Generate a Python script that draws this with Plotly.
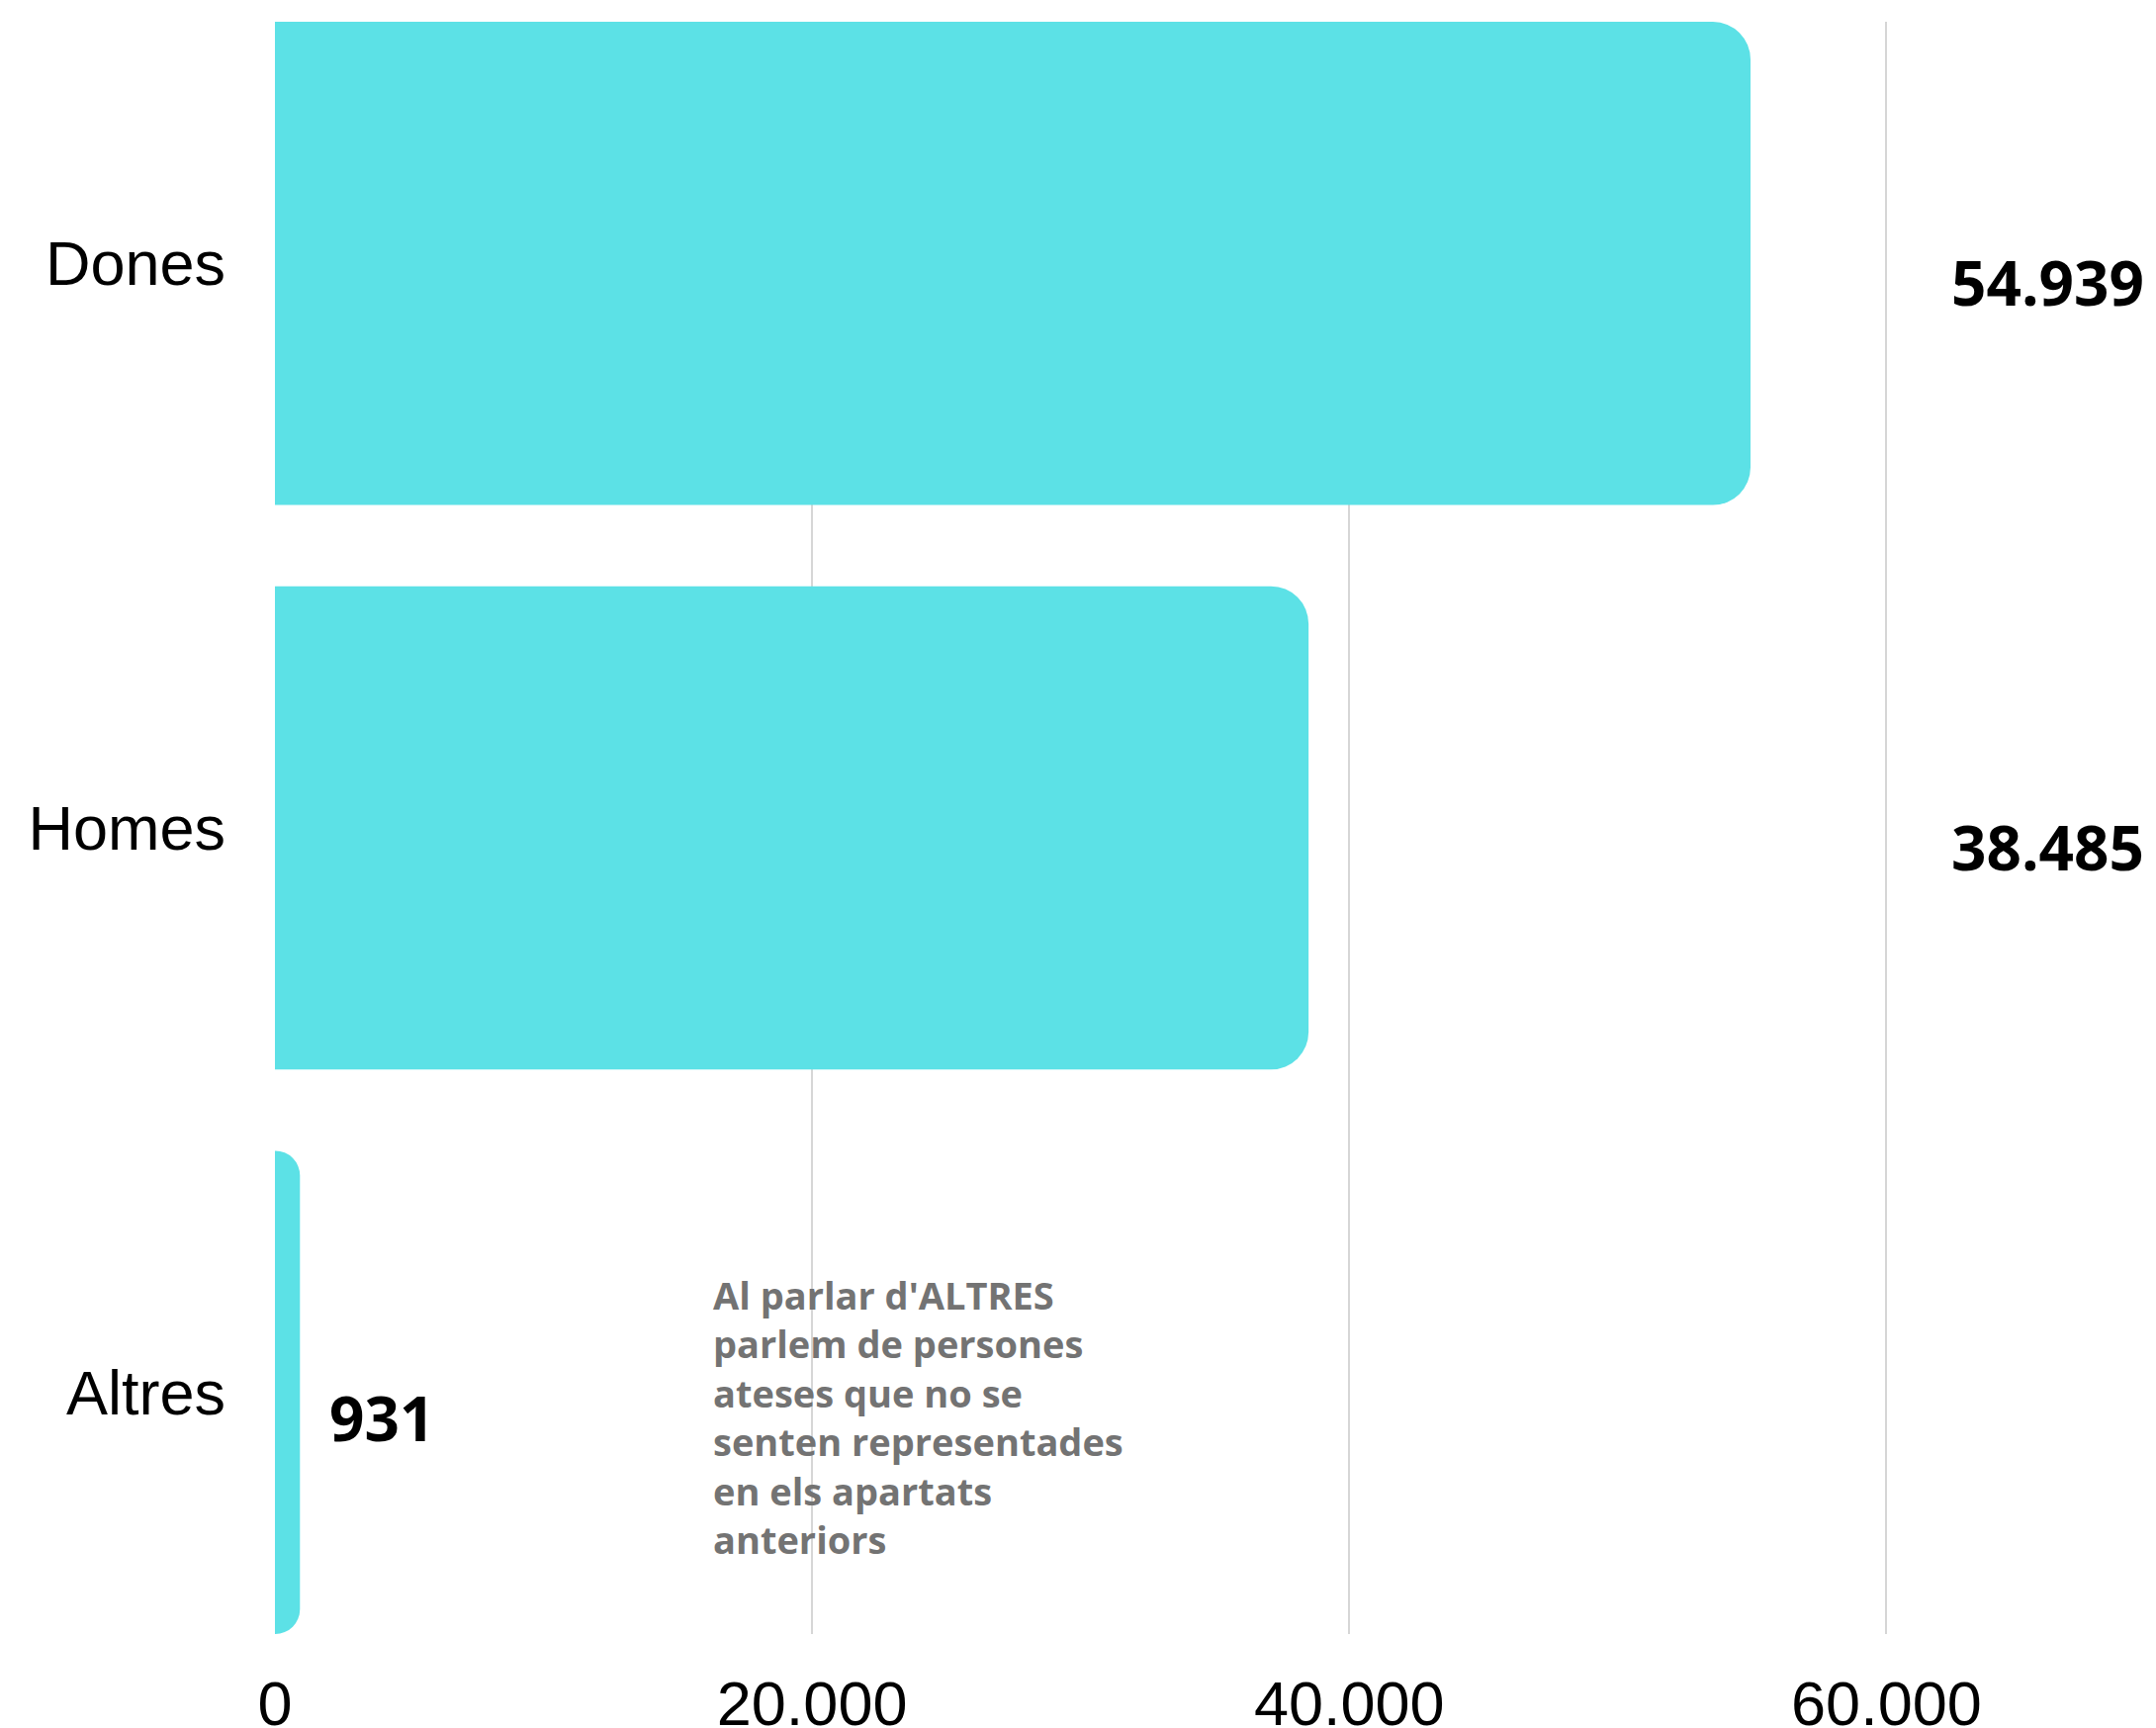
import plotly.graph_objects as go

categories = ["Dones", "Homes", "Altres"]
values = [54939, 38485, 931]
x_ticks = [0, 20000, 40000, 60000]
x_tick_labels = ["0", "20.000", "40.000", "60.000"]
note_lines = [
    "Al parlar d'ALTRES",
    "parlem de persones",
    "ateses que no se",
    "senten representades",
    "en els apartats",
    "anteriors",
]

BAR_COLOR = "#5ce1e6"
# the page body has an 8px default margin, so the figure is 8px smaller
W, H = 2172, 1739


def fmt(v):
    return f"{v:,}".replace(",", ".")


fig = go.Figure()
fig.add_trace(
    go.Bar(
        y=categories,
        x=values,
        orientation="h",
        marker=dict(color=BAR_COLOR, line=dict(width=0), cornerradius=38),
        width=0.856,
        hoverinfo="skip",
    )
)

annotations = []
for cat, v in zip(categories, values):
    if v > 20000:
        annotations.append(
            dict(x=0.8905, xref="paper", y=cat, yref="y", text=f"<b>{fmt(v)}</b>",
                 showarrow=False, xanchor="left", yanchor="middle", yshift=-19,
                 font=dict(family="Open Sans", size=62, color="#000000"))
        )
    else:
        annotations.append(
            dict(x=v, xref="x", y=cat, yref="y", text=f"<b>{fmt(v)}</b>",
                 showarrow=False, xanchor="left", yanchor="middle", xshift=28, yshift=-25,
                 font=dict(family="Open Sans", size=62, color="#000000"))
        )

annotations.append(
    dict(x=0.2320, xref="paper", y=0.2278, yref="paper",
         text="<b>" + "<br>".join(note_lines) + "</b>",
         showarrow=False, xanchor="left", yanchor="top", align="left",
         font=dict(family="Open Sans", size=38, color="#737373"))
)

fig.update_layout(
    width=W,
    height=H,
    margin=dict(l=270, r=1, t=14, b=95),
    paper_bgcolor="white",
    plot_bgcolor="white",
    showlegend=False,
    separators=",.",
    annotations=annotations,
    xaxis=dict(
        range=[0, 70000],
        tickvals=x_ticks,
        ticktext=x_tick_labels,
        showgrid=True,
        gridcolor="#d6d6d6",
        gridwidth=1.5,
        zeroline=False,
        showline=False,
        ticks="",
        ticklabelstandoff=28,
        automargin=False,
        tickfont=dict(family="Liberation Sans, Arial", size=63, color="#000000"),
        fixedrange=True,
    ),
    yaxis=dict(
        categoryorder="array",
        categoryarray=categories,
        range=[2.428, -0.428],
        showgrid=False,
        zeroline=False,
        showline=False,
        ticks="",
        ticklabelstandoff=49,
        automargin=False,
        tickfont=dict(family="Liberation Sans, Arial", size=63, color="#000000"),
        fixedrange=True,
    ),
)

fig.write_html("out.html", config={"displayModeBar": False})
